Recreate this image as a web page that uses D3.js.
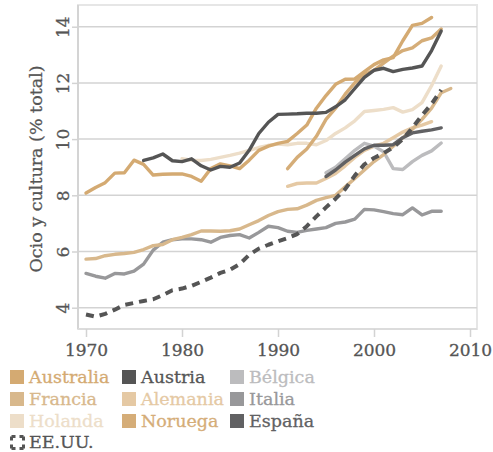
<!DOCTYPE html>
<html><head><meta charset="utf-8">
<script src="https://cdn.jsdelivr.net/npm/d3@7"></script>
<style>
html,body{margin:0;padding:0;background:#fff;}
svg{display:block;}
text{font-family:"DejaVu Serif",serif;}
</style></head>
<body><svg id="c" width="493" height="452"></svg>
<script>
// ---- data ----
const seriesNames = ["Australia","Austria","Bélgica","Francia","Alemania","Italia","Holanda","Noruega","España","EE.UU."];
const startYears = {"Australia":1970,"Austria":1976,"Bélgica":1995,"Francia":1970,"Alemania":1991,"Italia":1970,"Holanda":1980,"Noruega":1991,"España":1995,"EE.UU.":1970};
const australia = [8.08,8.28,8.45,8.79,8.8,9.25,9.1,8.72,8.75,8.76,8.76,8.67,8.5,8.95,9.12,9.05,8.95,9.25,9.6,9.75,9.85,9.92,10.2,10.5,11.1,11.55,11.95,12.13,12.14,12.4,12.65,12.82,12.9,13.5,14.05,14.12,14.33];
const austria = [9.24,9.33,9.47,9.23,9.2,9.3,9.05,8.9,9.03,9.0,9.15,9.6,10.2,10.6,10.88,10.89,10.9,10.92,10.92,10.95,11.15,11.4,11.8,12.2,12.45,12.52,12.4,12.48,12.53,12.6,13.15,13.85];
const belgica = [8.8,9.0,9.3,9.6,9.85,9.75,9.55,8.95,8.92,9.2,9.42,9.58,9.86];
const francia = [5.73,5.75,5.85,5.9,5.93,5.97,6.07,6.21,6.25,6.42,6.5,6.6,6.73,6.73,6.72,6.74,6.8,6.95,7.1,7.28,7.42,7.5,7.52,7.65,7.82,7.92,8.0,8.3,8.6,8.9,9.2,9.45,9.75,10.05,10.35,10.7,11.1,11.65,11.8];
const alemania = [8.32,8.42,8.44,8.44,8.6,8.78,9.05,9.35,9.6,9.75,9.85,10.05,10.25,10.4,10.5,10.62];
const italia = [5.22,5.12,5.05,5.22,5.2,5.3,5.55,6.05,6.33,6.42,6.45,6.45,6.42,6.33,6.5,6.57,6.6,6.48,6.68,6.9,6.85,6.72,6.68,6.75,6.8,6.85,7.0,7.05,7.15,7.5,7.48,7.42,7.35,7.31,7.55,7.3,7.43,7.43];
const holanda = [9.3,9.25,9.24,9.28,9.35,9.42,9.5,9.6,9.7,9.78,9.82,9.8,9.85,9.85,9.8,9.95,10.2,10.4,10.65,10.98,11.02,11.06,11.12,10.96,11.05,11.3,11.9,12.6];
const noruega = [8.95,9.35,9.65,10.1,10.7,11.1,11.6,12.0,12.3,12.45,12.7,12.95,13.15,13.25,13.5,13.6,13.92];
const espana = [8.67,8.9,9.18,9.42,9.65,9.78,9.78,9.8,10.05,10.22,10.28,10.33,10.4];
const eeuu = [3.76,3.68,3.78,3.93,4.1,4.17,4.24,4.3,4.45,4.62,4.68,4.78,4.92,5.07,5.24,5.35,5.55,5.88,6.1,6.24,6.36,6.48,6.62,6.9,7.25,7.57,7.88,8.22,8.7,9.1,9.33,9.5,9.7,10.0,10.4,10.85,11.25,11.75];
const xTicks = [1970,1980,1990,2000,2010];
const yTicks = [4,6,8,10,12,14];
const yTitle = "Ocio y cultura (% total)";

const valuesBy = {"Australia":australia,"Austria":austria,"Bélgica":belgica,"Francia":francia,"Alemania":alemania,"Italia":italia,"Holanda":holanda,"Noruega":noruega,"España":espana,"EE.UU.":eeuu};
const colors = {"Australia":"#d4aa72","Austria":"#555555","Bélgica":"#bcbcbe","Francia":"#d8b88c","Alemania":"#e5c9a4","Italia":"#98989a","Holanda":"#eddec9","Noruega":"#d5ad78","España":"#616163","EE.UU.":"#555555"};
const drawOrder = ["Holanda","Alemania","Bélgica","Italia","Francia","Noruega","Australia","España","Austria","EE.UU."];

// ---- chart ----
const svg = d3.select("#c");
const x = d3.scaleLinear().domain([1970,2010]).range([86,470]);
const y = d3.scaleLinear().domain([4,14]).range([307.7,26.7]);
const L=78, R=477, T=5, B=329;

// frame
svg.append("rect").attr("x",L).attr("y",T).attr("width",R-L).attr("height",B-T)
  .attr("fill","none").attr("stroke","#e6e6e6").attr("stroke-width",2);
svg.append("line").attr("x1",L).attr("x2",L).attr("y1",T).attr("y2",B).attr("stroke","#d4d4d4").attr("stroke-width",2);
svg.append("line").attr("x1",L).attr("x2",R).attr("y1",B).attr("y2",B).attr("stroke","#dcdcdc").attr("stroke-width",2);

// grid
svg.append("g").selectAll("line").data(yTicks).join("line")
  .attr("x1",L).attr("x2",R).attr("y1",d=>y(d)).attr("y2",d=>y(d))
  .attr("stroke","#d3d3d3").attr("stroke-width",1.5);

// y axis ticks + labels
const yAxis = d3.axisLeft(y).tickValues(yTicks).tickSize(6).tickPadding(0).tickFormat(d3.format("d"));
const gy = svg.append("g").attr("transform",`translate(${L},0)`).call(yAxis);
gy.select(".domain").remove();
gy.selectAll(".tick line").attr("stroke","#d3d3d3").attr("stroke-width",1.5);
gy.selectAll(".tick text").attr("transform","translate(-15,0) rotate(-90)").attr("text-anchor","middle")
  .attr("dy","0.35em").attr("x",0).attr("fill","#555").style("font-size","17px")
  .attr("stroke","#555").attr("stroke-width",0.3);

// x axis
const xAxis = d3.axisBottom(x).tickValues(xTicks).tickSize(8).tickPadding(7).tickFormat(d3.format("d"));
const gx = svg.append("g").attr("transform",`translate(0,${B})`).call(xAxis);
gx.select(".domain").remove();
gx.selectAll(".tick line").attr("stroke","#d3d3d3").attr("stroke-width",1.5);
gx.selectAll(".tick text").attr("fill","#555").style("font-size","17px")
  .attr("stroke","#555").attr("stroke-width",0.3);

// y title
svg.append("text").attr("transform",`translate(42,${(T+B)/2+2}) rotate(-90)`)
  .attr("text-anchor","middle").attr("fill","#555").style("font-size","17.5px")
  .attr("stroke","#555").attr("stroke-width",0.3).text(yTitle);

// lines
const line = d3.line().x(d=>x(d[0])).y(d=>y(d[1]));
drawOrder.forEach(name=>{
  const vals = valuesBy[name];
  const pts = vals.map((v,i)=>[startYears[name]+i, v]);
  const p = svg.append("path").datum(pts).attr("d",line).attr("fill","none")
    .attr("stroke",colors[name]).attr("stroke-width",3.4).attr("stroke-linejoin","round").attr("stroke-linecap","round");
  if(name==="EE.UU."){p.attr("stroke-width",4).attr("stroke-dasharray","8,6").attr("stroke-linecap","butt");}
});

// legend
const legendRows = [["Australia","Austria","Bélgica"],["Francia","Alemania","Italia"],["Holanda","Noruega","España"],["EE.UU."]];
const colX = [10,122,230];
const rowY = [377,399,421,442];
legendRows.forEach((row,ri)=>{
  row.forEach((name,ci)=>{
    const g = svg.append("g").attr("transform",`translate(${colX[ci]},${rowY[ri]})`);
    if(name==="EE.UU."){
      g.append("rect").attr("x",1.5).attr("y",-5.5).attr("width",12).attr("height",12).attr("fill","none")
        .attr("stroke",colors[name]).attr("stroke-width",3).attr("stroke-dasharray","4,4,4,0");
    } else {
      g.append("rect").attr("x",0).attr("y",-7).attr("width",14).attr("height",14).attr("fill",colors[name]);
    }
    g.append("text").attr("x",19).attr("y",0).attr("dy","0.36em").attr("fill",colors[name])
      .attr("stroke",colors[name]).attr("stroke-width",0.3)
      .style("font-size","17.5px").text(name);
  });
});
</script></body></html>
